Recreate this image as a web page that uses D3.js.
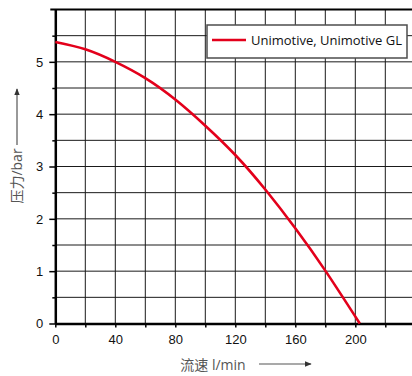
<!DOCTYPE html>
<html>
<head>
<meta charset="utf-8">
<title>Unimotive pump curve</title>
<script src="https://d3js.org/d3.v7.min.js"></script>
<style>
  body { margin: 0; background: #fff; }
  svg { display: block; }
  .tick text { font-family: "Liberation Sans", Arial, sans-serif; font-size: 13px; fill: #111; }
</style>
</head>
<body>
<div id="chart"></div>
<script>
// flow (l/min) and pressure (bar)
const flow = [0, 20, 40, 60, 80, 100, 120, 140, 160, 180, 203];
const pressure = [5.38, 5.24, 5.0, 4.69, 4.28, 3.78, 3.22, 2.56, 1.82, 1.01, 0];
const xTicks = [0, 40, 80, 120, 160, 200];
const yTicks = [0, 1, 2, 3, 4, 5];
const seriesName = "Unimotive, Unimotive GL";

const W = 412, H = 376;
const x = d3.scaleLinear().domain([0, 240]).range([55.3, 415.3]);
const y = d3.scaleLinear().domain([0, 6]).range([323.5, 9.5]);

const svg = d3.select("#chart").append("svg").attr("width", W).attr("height", H);

// grid
svg.append("g").selectAll("line")
  .data(d3.range(20, 241, 20))
  .join("line")
  .attr("x1", d => x(d)).attr("x2", d => x(d))
  .attr("y1", y(0)).attr("y2", y(6))
  .attr("stroke", "#1a1a1a").attr("stroke-width", 1);
svg.append("g").selectAll("line")
  .data(d3.range(0.5, 6, 0.5))
  .join("line")
  .attr("x1", x(0)).attr("x2", W)
  .attr("y1", d => y(d)).attr("y2", d => y(d))
  .attr("stroke", "#1a1a1a").attr("stroke-width", 1);

// top border
svg.append("line")
  .attr("x1", x(0) - 5).attr("x2", W)
  .attr("y1", y(6)).attr("y2", y(6))
  .attr("stroke", "#000").attr("stroke-width", 2);

// y axis, minor ticks then major ticks with labels
svg.append("g").attr("transform", `translate(${x(0)},0)`)
  .call(d3.axisLeft(y).tickValues(d3.range(0.5, 6, 1)).tickSize(3).tickFormat(""))
  .call(g => g.select(".domain").remove())
  .call(g => g.selectAll("line").attr("stroke", "#000").attr("stroke-width", 1.5));
svg.append("g").attr("transform", `translate(${x(0)},0)`)
  .call(d3.axisLeft(y).tickValues(yTicks).tickSize(6).tickPadding(6).tickSizeOuter(0)
    .tickFormat(d3.format("d")))
  .call(g => g.select(".domain").attr("stroke-width", 2.5))
  .call(g => g.selectAll(".tick line").attr("stroke-width", 1.5));

// x axis
svg.append("g").attr("transform", `translate(0,${y(0)})`)
  .call(d3.axisBottom(x).tickValues(d3.range(0, 241, 20)).tickSize(4).tickPadding(7)
    .tickFormat(d => xTicks.includes(d) ? d : "").tickSizeOuter(0))
  .call(g => g.select(".domain").attr("stroke-width", 2.5))
  .call(g => g.selectAll(".tick line").attr("stroke-width", 1.5));

// curve
const line = d3.line().x((d, i) => x(flow[i])).y(d => y(d)).curve(d3.curveNatural);
svg.append("path")
  .datum(pressure)
  .attr("d", line)
  .attr("fill", "none")
  .attr("stroke", "#e3001b")
  .attr("stroke-width", 2.6);

// legend
const lg = svg.append("g").attr("transform", "translate(207,25)");
lg.append("rect").attr("width", 200).attr("height", 33)
  .attr("fill", "#fff").attr("stroke", "#4d4d4d").attr("stroke-width", 1.5);
lg.append("line").attr("x1", 5).attr("x2", 39).attr("y1", 15).attr("y2", 15)
  .attr("stroke", "#e3001b").attr("stroke-width", 2.6);
lg.append("text").attr("x", 44).attr("y", 20)
  .attr("font-family", "'Open Sans', sans-serif").attr("font-size", 13).attr("fill", "#111")
  .text(seriesName);

// axis titles with arrows
const defs = svg.append("defs");
defs.append("marker").attr("id", "arr").attr("viewBox", "0 0 10 10")
  .attr("refX", 9).attr("refY", 5).attr("markerWidth", 7).attr("markerHeight", 7)
  .attr("markerUnits", "userSpaceOnUse").attr("orient", "auto")
  .append("path").attr("d", "M0,1 L10,5 L0,9 Z").attr("fill", "#333");

svg.append("text")
  .attr("transform", "translate(22,176) rotate(-90)")
  .attr("text-anchor", "middle")
  .attr("font-family", "'Open Sans', 'Noto Sans CJK SC', sans-serif")
  .attr("font-size", 14).attr("fill", "#555")
  .text("压力/bar");
svg.append("line").attr("x1", 17).attr("x2", 17).attr("y1", 145).attr("y2", 89)
  .attr("stroke", "#555").attr("stroke-width", 1.2).attr("marker-end", "url(#arr)");

svg.append("text")
  .attr("x", 213).attr("y", 370)
  .attr("text-anchor", "middle")
  .attr("font-family", "'Open Sans', 'Noto Sans CJK SC', sans-serif")
  .attr("font-size", 14).attr("fill", "#555")
  .text("流速 l/min");
svg.append("line").attr("x1", 259).attr("x2", 311).attr("y1", 364).attr("y2", 364)
  .attr("stroke", "#555").attr("stroke-width", 1.2).attr("marker-end", "url(#arr)");
</script>
</body>
</html>
